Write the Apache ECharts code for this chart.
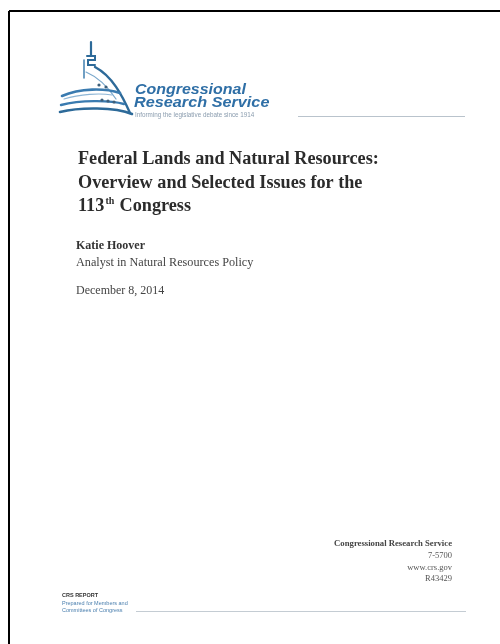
<!DOCTYPE html>
<html>
<head>
<meta charset="utf-8">
<script src="https://cdn.jsdelivr.net/npm/echarts@6/dist/echarts.min.js"></script>
<style>
  html, body { margin: 0; padding: 0; background: #fff; }
  #cover { width: 500px; height: 644px; }
</style>
</head>
<body>
<div id="cover"></div>
<script>
// text content of the cover
var brandLines = ['Congressional', 'Research Service']
var tagline = 'Informing the legislative debate since 1914'
var titleLines = ['Federal Lands and Natural Resources:', 'Overview and Selected Issues for the', '113', 'th', ' Congress']
var author = 'Katie Hoover'
var authorRole = 'Analyst in Natural Resources Policy'
var reportDate = 'December 8, 2014'
var infoLines = ['Congressional Research Service', '7-5700', 'www.crs.gov', 'R43429']
var footerLines = ['CRS REPORT', 'Prepared for Members and', 'Committees of Congress']

var blue = '#2f6fa6'
var serif = '"Liberation Serif", "Times New Roman", serif'
var sans = '"Liberation Sans", Arial, sans-serif'

// x, baseline y, text, weight/style, size, family, colour, align
function txt (x, base, text, style, size, family, fill, align, sx) {
  return {
    type: 'text',
    x: x,
    y: base - 0.32 * size,
    scaleX: sx || 1,
    style: {
      text: text,
      font: style + ' ' + size + 'px ' + family,
      fill: fill,
      align: align || 'left',
      verticalAlign: 'middle'
    }
  }
}

function stroke (shape, type, width, color) {
  return {
    type: type,
    shape: shape,
    style: { stroke: color || blue, lineWidth: width, fill: null, lineCap: 'round' }
  }
}

function dot (x, y) {
  return { type: 'circle', shape: { cx: x, cy: y, r: 1.6 }, style: { fill: '#3d5f7a' } }
}

var g = []

// page border (top and left only)
g.push({ type: 'line', shape: { x1: 9, y1: 11, x2: 500, y2: 11 }, style: { stroke: '#000', lineWidth: 2 } })
g.push({ type: 'line', shape: { x1: 9, y1: 11, x2: 9, y2: 644 }, style: { stroke: '#000', lineWidth: 2 } })

// capitol dome logo
g.push(stroke({ x1: 91, y1: 42, x2: 91, y2: 55 }, 'line', 2.2, '#2d6a99'))
g.push(stroke({ points: [[87, 56], [95, 56], [95, 60], [88, 60], [88, 65], [95, 65]] }, 'polyline', 2, '#2d6a99'))
g.push(stroke({ x1: 84, y1: 60, x2: 84, y2: 78 }, 'line', 1.6, '#4c87b5'))
g.push(stroke({ x1: 95, y1: 67, cpx1: 112, cpy1: 76, cpx2: 122, cpy2: 95, x2: 130, y2: 113 }, 'bezierCurve', 2.4, '#2d6a99'))
g.push(stroke({ x1: 86, y1: 72, cpx1: 100, cpy1: 78, cpx2: 110, cpy2: 90, x2: 116, y2: 99 }, 'bezierCurve', 1.2, '#7aa8cc'))
g.push(stroke({ x1: 62, y1: 96, cpx1: 80, cpy1: 88, cpx2: 105, cpy2: 88, x2: 120, y2: 93 }, 'bezierCurve', 2.6, '#3a7bb0'))
g.push(stroke({ x1: 64, y1: 99, cpx1: 80, cpy1: 94, cpx2: 100, cpy2: 93, x2: 112, y2: 95 }, 'bezierCurve', 1.2, '#8db5d5'))
g.push(stroke({ x1: 61, y1: 105, cpx1: 80, cpy1: 100, cpx2: 110, cpy2: 100, x2: 124, y2: 104 }, 'bezierCurve', 2.4, '#3a7bb0'))
g.push(stroke({ x1: 60, y1: 112, cpx1: 80, cpy1: 107, cpx2: 115, cpy2: 107, x2: 132, y2: 114 }, 'bezierCurve', 2.6, '#2d6a99'))
g.push(dot(99, 85), dot(106, 87), dot(102, 100), dot(108, 101), dot(114, 102))

// brand name + tagline
g.push(txt(135, 95, brandLines[0], 'italic bold', 14, sans, blue, 'left', 1.14))
g.push(txt(134, 108, brandLines[1], 'italic bold', 14, sans, blue, 'left', 1.16))
g.push(txt(135, 117, tagline, 'normal', 6.3, sans, '#8a9cae'))
g.push({ type: 'line', shape: { x1: 298, y1: 116.5, x2: 465, y2: 116.5 }, style: { stroke: '#b9c3cc', lineWidth: 1 } })

// title
g.push(txt(78, 165, titleLines[0], 'bold', 18.2, serif, '#2b2b2b'))
g.push(txt(78, 189, titleLines[1], 'bold', 18.2, serif, '#2b2b2b'))
g.push(txt(78, 212, titleLines[2], 'bold', 18.2, serif, '#2b2b2b'))
g.push(txt(105.5, 205, titleLines[3], 'bold', 10, serif, '#2b2b2b'))
g.push(txt(115, 212, titleLines[4], 'bold', 18.2, serif, '#2b2b2b'))

// author block
g.push(txt(76, 250, author, 'bold', 12, serif, '#333'))
g.push(txt(76, 267, authorRole, 'normal', 12.2, serif, '#444'))
g.push(txt(76, 295, reportDate, 'normal', 12, serif, '#444'))

// right info block
g.push(txt(452, 547, infoLines[0], 'bold', 8.7, serif, '#444', 'right'))
g.push(txt(452, 558, infoLines[1], 'normal', 8.5, serif, '#555', 'right'))
g.push(txt(452, 570, infoLines[2], 'normal', 8.5, serif, '#555', 'right'))
g.push(txt(452, 581, infoLines[3], 'normal', 8.5, serif, '#555', 'right'))

// footer
g.push(txt(62, 597, footerLines[0], 'bold', 5.5, sans, '#333'))
g.push(txt(62, 605, footerLines[1], 'normal', 5.5, sans, '#4a7fae'))
g.push(txt(62, 612, footerLines[2], 'normal', 5.5, sans, '#4a7fae'))
g.push({ type: 'line', shape: { x1: 136, y1: 611.5, x2: 466, y2: 611.5 }, style: { stroke: '#c4ccd3', lineWidth: 1 } })

var chart = echarts.init(document.getElementById('cover'))
chart.setOption({
  backgroundColor: '#fff',
  animation: false,
  graphic: { elements: g }
})
window.addEventListener('resize', function () {
  chart.resize()
})
</script>
</body>
</html>
